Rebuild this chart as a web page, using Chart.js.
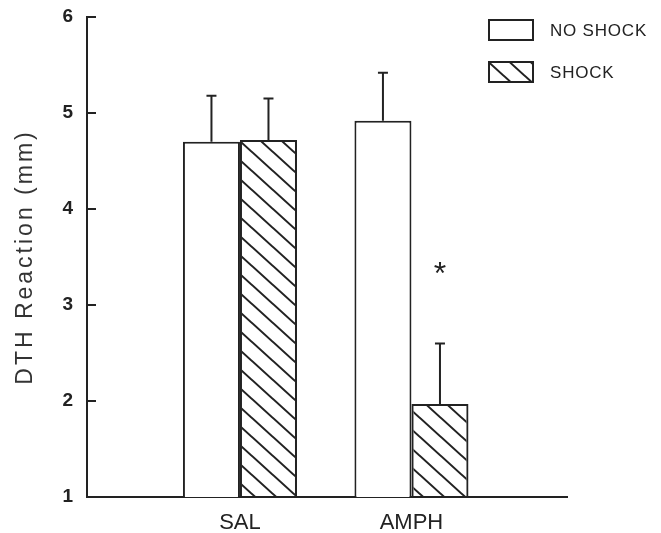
<!DOCTYPE html>
<html>
<head>
<meta charset="utf-8">
<script src="https://cdn.jsdelivr.net/npm/chart.js@4.4.0/dist/chart.umd.min.js"></script>
<style>
  html, body { margin: 0; padding: 0; background: #fff; }
  #wrap { width: 661px; height: 533px; }
</style>
</head>
<body>
<div id="wrap"><canvas id="chart"></canvas></div>
<script>
// data
const categories = ['SAL', 'AMPH'];
const seriesLabels = ['NO SHOCK', 'SHOCK'];
const noShock = [4.70, 4.92];
const noShockErr = [0.48, 0.50];
const shock = [4.72, 1.97];
const shockErr = [0.43, 0.63];
const yTicks = [1, 2, 3, 4, 5, 6];
// significance mark: dataset 1 (SHOCK), AMPH, drawn at y = 3.37
const sigMarks = [{ ds: 1, idx: 1, y: 3.37, text: '*' }];

const ink = '#222';
const fam = '"Liberation Sans", Arial, sans-serif';

// diagonal hatch for the SHOCK bars
function hatch() {
  const c = document.createElement('canvas');
  c.width = 21; c.height = 19;
  const g = c.getContext('2d');
  g.strokeStyle = ink; g.lineWidth = 2;
  g.beginPath();
  g.moveTo(-21, -19); g.lineTo(42, 38);
  g.moveTo(-21, 0); g.lineTo(21, 38);
  g.moveTo(0, -19); g.lineTo(42, 19);
  g.stroke();
  return document.getElementById('chart').getContext('2d').createPattern(c, 'repeat');
}
const hatchFill = hatch();

const errBars = {
  id: 'errBars',
  afterDatasetsDraw(chart) {
    const ctx = chart.ctx, y = chart.scales.y;
    const errs = [noShockErr, shockErr];
    ctx.save();
    ctx.strokeStyle = ink; ctx.lineWidth = 2;
    chart.data.datasets.forEach((ds, i) => {
      chart.getDatasetMeta(i).data.forEach((bar, j) => {
        const top = y.getPixelForValue(ds.data[j].y + errs[i][j]);
        ctx.beginPath();
        ctx.moveTo(bar.x, bar.y); ctx.lineTo(bar.x, top);
        ctx.moveTo(bar.x - 5, top); ctx.lineTo(bar.x + 5, top);
        ctx.stroke();
      });
    });
    ctx.fillStyle = ink;
    ctx.font = '32px ' + fam;
    ctx.textAlign = 'center'; ctx.textBaseline = 'middle';
    sigMarks.forEach(m => {
      const bar = chart.getDatasetMeta(m.ds).data[m.idx];
      ctx.fillText(m.text, bar.x, y.getPixelForValue(m.y) + 6);
    });
    ctx.restore();
  }
};

const boxLegend = {
  id: 'boxLegend',
  afterDraw(chart) {
    const ctx = chart.ctx;
    ctx.save();
    ctx.lineWidth = 2; ctx.strokeStyle = ink;
    ctx.font = '17px ' + fam;
    ctx.letterSpacing = '0.8px';
    ctx.textBaseline = 'middle';
    chart.data.datasets.forEach((ds, i) => {
      const bx = 489, by = 20 + i * 42;
      ctx.fillStyle = ds.backgroundColor;
      ctx.fillRect(bx, by, 44, 20);
      ctx.strokeRect(bx, by, 44, 20);
      ctx.fillStyle = ink;
      ctx.fillText(ds.label, 550, by + 11);
    });
    ctx.restore();
  }
};

new Chart(document.getElementById('chart'), {
  type: 'bar',
  data: {
    datasets: [
      { label: seriesLabels[0], data: noShock.map((v, i) => ({ x: i + 1, y: v })),
        backgroundColor: '#fff', borderColor: ink, borderWidth: 2 },
      { label: seriesLabels[1], data: shock.map((v, i) => ({ x: i + 1, y: v })),
        backgroundColor: hatchFill, borderColor: ink, borderWidth: 2 }
    ]
  },
  options: {
    responsive: true,
    maintainAspectRatio: false,
    animation: false,
    categoryPercentage: 0.665,
    barPercentage: 1,
    layout: { padding: { top: 17, right: 94, left: 0, bottom: 0 } },
    plugins: { legend: { display: false }, tooltip: { enabled: false } },
    scales: {
      x: {
        type: 'linear', offset: false,
        min: 0.108, max: 2.907,
        afterBuildTicks: s => { s.ticks = categories.map((c, i) => ({ value: i + 1 })); },
        afterFit: s => { s.height = 36; },
        grid: { display: false, offset: false },
        border: { display: true, color: ink, width: 2 },
        ticks: {
          padding: 5, color: ink,
          font: { family: fam, size: 22 },
          callback: v => categories[Math.round(v) - 1] || ''
        }
      },
      y: {
        min: 1, max: 6,
        afterBuildTicks: s => { s.ticks = yTicks.map(v => ({ value: v })); },
        afterFit: s => { s.width = 87; s.paddingTop = 10; s.paddingBottom = 10; },
        afterUpdate: s => {
          // spaced-out axis title, as in the original
          if (!s._spaced) {
            const orig = s.drawTitle;
            s.drawTitle = function () {
              this.ctx.save(); this.ctx.letterSpacing = '3px';
              orig.call(this); this.ctx.restore();
            };
            s._spaced = true;
          }
        },
        grid: { display: true, drawOnChartArea: false, drawTicks: true, tickLength: -9, color: ink, lineWidth: 2 },
        border: { display: true, color: ink, width: 2 },
        ticks: {
          padding: 23, color: ink,
          font: { family: fam, size: 19, weight: 'bold' }
        },
        title: {
          display: true, text: 'DTH Reaction (mm)', color: '#333',
          padding: { top: 12, bottom: 0 },
          font: { family: fam, size: 23 }
        }
      }
    }
  },
  plugins: [errBars, boxLegend]
});
</script>
</body>
</html>
